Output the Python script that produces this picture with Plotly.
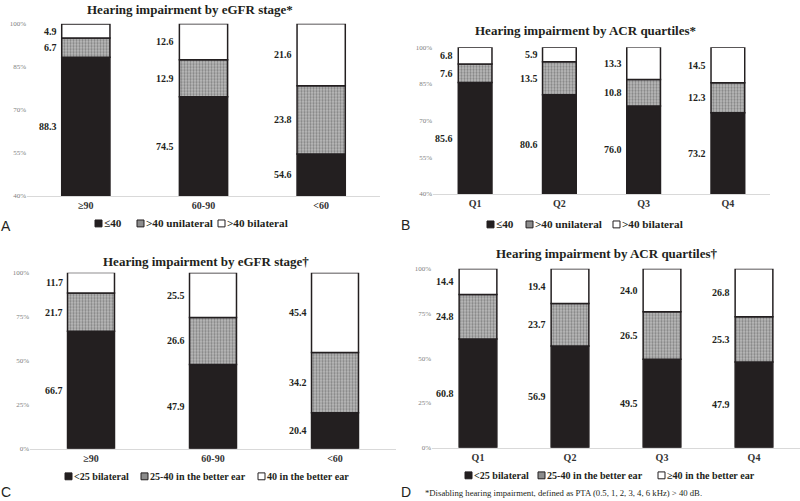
import plotly.graph_objects as go

W, H = 800, 501

# ---------------- data ----------------
egfr_cats = ["≥90", "60-90", "&lt;60"]
acr_cats = ["Q1", "Q2", "Q3", "Q4"]

names_ab = ["≤40", ">40 unilateral", ">40 bilateral"]
names_c = ["&lt;25 bilateral", "25-40 in the better ear", "40 in the better ear"]
names_d = ["&lt;25 bilateral", "25-40 in the better ear", "≥40 in the better ear"]

a_low = [88.3, 74.5, 54.6]
a_uni = [6.7, 12.9, 23.8]
a_bi = [4.9, 12.6, 21.6]

b_low = [85.6, 80.6, 76.0, 73.2]
b_uni = [7.6, 13.5, 10.8, 12.3]
b_bi = [6.8, 5.9, 13.3, 14.5]

c_low = [66.7, 47.9, 20.4]
c_mid = [21.7, 26.6, 34.2]
c_high = [11.7, 25.5, 45.4]

d_low = [60.8, 56.9, 49.5, 47.9]
d_mid = [24.8, 23.7, 26.5, 25.3]
d_high = [14.4, 19.4, 24.0, 26.8]

ticks_ab = [40, 55, 70, 85, 100]
ticks_cd = [0, 25, 50, 75, 100]

titles = ["Hearing impairment by eGFR stage*", "Hearing impairment by ACR quartiles*",
          "Hearing impairment by eGFR stage†", "Hearing impairment by ACR quartiles†"]
footnote = "*Disabling hearing impairment, defined as PTA (0.5, 1, 2, 3, 4, 6 kHz) &gt; 40 dB."

# ---------------- styling ----------------
SERIF = "Liberation Serif"
SANS = "Liberation Sans"
BLACK = "#231f20"
GRAYFILL = "#8c8c8c"


def px(x):
    return x / W


def py(y):
    return 1 - y / H


panels = [
    dict(cats=egfr_cats, series=[a_low, a_uni, a_bi], names=names_ab, ymin=40,
         ticks=ticks_ab, xd=(27, 380), yd=(20, 195), bw=0.41,
         title_xy=(190, 6), letter="A", letter_xy=(0, 226),
         leg_y=223, leg_x=[95, 137, 218], leg_size=11.2),
    dict(cats=acr_cats, series=[b_low, b_uni, b_bi], names=names_ab, ymin=40,
         ticks=ticks_ab, xd=(433, 770), yd=(44, 193), bw=0.40,
         title_xy=(585, 27), letter="B", letter_xy=(400, 225),
         leg_y=224, leg_x=[487, 526, 613], leg_size=11.2),
    dict(cats=egfr_cats, series=[c_low, c_mid, c_high], names=names_c, ymin=0,
         ticks=ticks_cd, xd=(30, 396), yd=(273, 452), bw=0.385,
         title_xy=(206, 262), letter="C", letter_xy=(0, 496),
         leg_y=480, leg_x=[65, 141, 258], leg_size=10.1),
    dict(cats=acr_cats, series=[d_low, d_mid, d_high], names=names_d, ymin=0,
         ticks=ticks_cd, xd=(432, 800), yd=(269, 451), bw=0.41,
         title_xy=(606, 254), letter="D", letter_xy=(400, 496),
         leg_y=479, leg_x=[465, 538, 658], leg_size=10.1),
]

seg_styles = [
    dict(color=BLACK),
    dict(color="#a0a0a0", pattern=dict(shape=".", fgcolor="#4a4a4a", bgcolor="#bdbdbd",
                                       size=3, solidity=0.45)),
    dict(color="white"),
]

fig = go.Figure()
annotations = []
shapes = []

for i, p in enumerate(panels):
    k = "" if i == 0 else str(i + 1)
    xa, ya = "x" + k, "y" + k
    n = len(p["cats"])
    xs = list(range(n))
    base = [0.0] * n
    for s, (vals, name) in enumerate(zip(p["series"], p["names"])):
        st = seg_styles[s]
        marker = dict(color=st["color"], line=dict(color=BLACK, width=1.5))
        if "pattern" in st:
            marker["pattern"] = st["pattern"]
        fig.add_trace(go.Bar(x=xs, y=vals, base=base, width=p["bw"], marker=marker,
                             name=name, showlegend=False, xaxis=xa, yaxis=ya,
                             cliponaxis=False, hoverinfo="skip"))
        # value labels at midpoint of visible segment, left of bar
        for j in range(n):
            lo = max(base[j], p["ymin"])
            hi = base[j] + vals[j]
            annotations.append(dict(
                x=xs[j] - p["bw"] / 2, y=(lo + hi) / 2, xref=xa, yref=ya,
                text=f"{vals[j]:.1f}", showarrow=False, xanchor="right", yanchor="middle",
                xshift=-3, font=dict(family=SERIF, size=10, color=BLACK, weight="bold")))
        base = [b + v for b, v in zip(base, vals)]

    fig.update_layout({
        "xaxis" + k: dict(domain=[px(p["xd"][0]), px(p["xd"][1])], anchor=ya,
                          range=[-0.5, n - 0.5], tickvals=xs, ticktext=p["cats"],
                          showgrid=False, zeroline=False, showline=True,
                          linecolor="#d9d9d9", linewidth=1, ticks="",
                          tickfont=dict(family=SERIF, size=10, color="#333333", weight="bold"),
                          fixedrange=True),
        "yaxis" + k: dict(domain=[py(p["yd"][1]), py(p["yd"][0])], anchor=xa,
                          range=[p["ymin"], 100], tickvals=p["ticks"],
                          ticktext=[f"{t}%" for t in p["ticks"]],
                          showgrid=False, zeroline=False, showline=False, ticks="",
                          tickfont=dict(family=SERIF, size=7, color="#808080"),
                          fixedrange=True),
    })

    # title
    annotations.append(dict(x=px(p["title_xy"][0]), y=py(p["title_xy"][1]), xref="paper",
                            yref="paper", text=titles[i], showarrow=False, xanchor="center",
                            yanchor="middle",
                            font=dict(family=SERIF, size=13, color="#231f20", weight="bold")))
    # panel letter
    annotations.append(dict(x=px(p["letter_xy"][0]), y=py(p["letter_xy"][1]), xref="paper",
                            yref="paper", text=p["letter"], showarrow=False, xanchor="left",
                            yanchor="middle", xshift=-1,
                            font=dict(family=SANS, size=14, color="#231f20")))
    # legend: squares + text
    for s, name in enumerate(p["names"]):
        x0 = p["leg_x"][s]
        yc = p["leg_y"]
        fill = [BLACK, GRAYFILL, "white"][s]
        shapes.append(dict(type="rect", xref="paper", yref="paper",
                           x0=px(x0), x1=px(x0 + 7), y0=py(yc + 3.5), y1=py(yc - 3.5),
                           fillcolor=fill, line=dict(color=BLACK, width=1)))
        annotations.append(dict(x=px(x0 + 7), y=py(yc), xref="paper", yref="paper",
                                text=name, showarrow=False, xanchor="left", yanchor="middle",
                                font=dict(family=SERIF, size=p["leg_size"], color="#231f20",
                                          weight="bold")))

annotations.append(dict(x=px(423), y=py(497), xref="paper", yref="paper", text=footnote,
                        showarrow=False, xanchor="left", yanchor="middle",
                        font=dict(family=SERIF, size=8.7, color="#231f20")))

fig.update_layout(width=W, height=H, margin=dict(l=0, r=0, t=0, b=0),
                  paper_bgcolor="white", plot_bgcolor="white", barmode="overlay",
                  annotations=annotations, shapes=shapes, showlegend=False)

fig.write_html("out.html", config={"displayModeBar": False},
               post_script="document.body.style.margin='0';document.body.style.overflow='hidden';")
